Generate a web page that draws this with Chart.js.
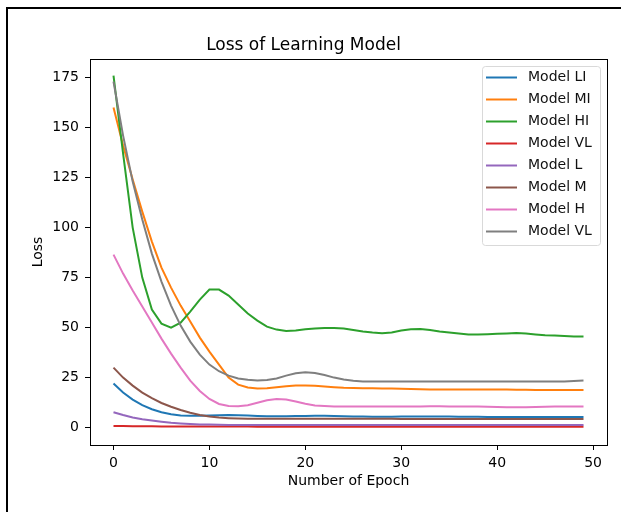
<!DOCTYPE html>
<html>
<head>
<meta charset="utf-8">
<script src="https://cdn.jsdelivr.net/npm/chart.js@4.4.0/dist/chart.umd.min.js"></script>
<style>
  html, body { margin: 0; padding: 0; background: #fff; }
  #wrap { position: relative; width: 621px; height: 512px; overflow: hidden; }
  #myChart { position: absolute; left: 0; top: 0; }
  #frame { position: absolute; left: 6px; top: 7px; width: 700px; height: 600px;
           border-left: 2px solid #000; border-top: 2px solid #000; pointer-events: none; }
</style>
</head>
<body>
<div id="wrap">
  <canvas id="myChart" width="621" height="512"></canvas>
  <div id="frame"></div>
</div>
<script>
// data block
const epochs = Array.from({length: 50}, (_, i) => i);
const xTicks = [0, 10, 20, 30, 40, 50];
const yTicks = [0, 25, 50, 75, 100, 125, 150, 175];

const seriesNames = ['Model LI', 'Model MI', 'Model HI', 'Model VL', 'Model L', 'Model M', 'Model H', 'Model VL'];
const seriesColors = ['#1f77b4', '#ff7f0e', '#2ca02c', '#d62728', '#9467bd', '#8c564b', '#e377c2', '#7f7f7f'];

const modelLI = [22, 17.5, 14, 11.2, 9.2, 7.7, 6.7, 6.1, 5.9, 5.9, 6.0, 6.2, 6.3, 6.2, 6.0, 5.8, 5.7, 5.7, 5.7, 5.8,
  5.8, 5.9, 5.9, 5.8, 5.7, 5.6, 5.5, 5.4, 5.4, 5.4, 5.5, 5.5, 5.6, 5.6, 5.5, 5.5, 5.4, 5.4, 5.4, 5.3,
  5.3, 5.3, 5.3, 5.3, 5.3, 5.3, 5.3, 5.3, 5.3, 5.3];
const modelMI = [160, 141, 124, 108, 93, 80, 70, 61, 53, 45, 38, 31.5, 25, 21.5, 20.1, 19.6, 19.7, 20.2, 20.7, 21,
  21, 20.9, 20.6, 20.2, 19.9, 19.8, 19.7, 19.7, 19.6, 19.5, 19.4, 19.3, 19.2, 19.1, 19.1, 19, 19, 19, 19, 19.1,
  19, 19, 18.9, 18.9, 18.8, 18.8, 18.8, 18.8, 18.8, 18.8];
const modelHI = [176, 137, 100, 75, 59, 52, 50, 52.5, 58, 64, 69, 69, 66, 61.5, 57, 53.5, 50.5, 49, 48.3, 48.5,
  49.2, 49.6, 49.8, 49.8, 49.5, 48.8, 48, 47.5, 47.2, 47.6, 48.5, 49.2, 49.3, 48.8, 48, 47.5, 47, 46.6, 46.5, 46.7,
  46.9, 47.1, 47.3, 47, 46.6, 46.2, 46, 45.8, 45.6, 45.6];
const modelVL = [0.8, 0.75, 0.7, 0.66, 0.62, 0.6, 0.57, 0.55, 0.53, 0.52, 0.5, 0.5, 0.5, 0.49, 0.49, 0.48, 0.48, 0.47, 0.47, 0.46,
  0.46, 0.46, 0.45, 0.45, 0.45, 0.44, 0.44, 0.44, 0.43, 0.43, 0.43, 0.43, 0.42, 0.42, 0.42, 0.42, 0.41, 0.41, 0.41, 0.41,
  0.41, 0.4, 0.4, 0.4, 0.4, 0.4, 0.4, 0.4, 0.4, 0.4];
const modelL = [7.7, 6.3, 5.1, 4.2, 3.5, 2.9, 2.4, 2.1, 1.8, 1.6, 1.5, 1.4, 1.35, 1.3, 1.3, 1.3, 1.3, 1.3, 1.3, 1.3,
  1.3, 1.3, 1.3, 1.3, 1.3, 1.3, 1.3, 1.3, 1.3, 1.3, 1.3, 1.3, 1.3, 1.3, 1.3, 1.3, 1.3, 1.3, 1.3, 1.3,
  1.3, 1.3, 1.3, 1.3, 1.3, 1.3, 1.3, 1.3, 1.3, 1.3];
const modelM = [30, 25, 21, 17.5, 14.7, 12.3, 10.4, 8.8, 7.4, 6.3, 5.5, 5, 4.7, 4.5, 4.4, 4.4, 4.4, 4.4, 4.4, 4.4,
  4.4, 4.4, 4.4, 4.4, 4.4, 4.4, 4.4, 4.4, 4.4, 4.4, 4.3, 4.3, 4.3, 4.3, 4.3, 4.3, 4.3, 4.3, 4.3, 4.3,
  4.3, 4.3, 4.3, 4.3, 4.3, 4.3, 4.3, 4.3, 4.3, 4.3];
const modelH = [86.5, 77, 68.5, 60.5, 52.5, 44.5, 37, 30, 23.5, 18.3, 14.3, 11.8, 10.8, 10.7, 11.2, 12.4, 13.7, 14.3, 14, 13,
  11.9, 11.1, 10.8, 10.6, 10.6, 10.6, 10.6, 10.6, 10.6, 10.6, 10.6, 10.6, 10.6, 10.7, 10.7, 10.6, 10.6, 10.6, 10.5, 10.4,
  10.3, 10.2, 10.2, 10.2, 10.3, 10.4, 10.5, 10.5, 10.5, 10.5];
const modelVL2 = [173, 146, 123, 104, 87, 73, 61, 51, 43, 36.5, 31.5, 28.2, 26, 24.6, 23.9, 23.6, 23.8, 24.6, 26, 27.2,
  27.7, 27.3, 26.3, 25, 24, 23.4, 23.1, 23, 23, 23, 23, 23, 23, 23, 23, 23, 23, 23, 23, 23,
  23, 23, 23, 23, 23, 23, 23, 23.1, 23.3, 23.6];

const seriesValues = [modelLI, modelMI, modelHI, modelVL, modelL, modelM, modelH, modelVL2];

const FONT = 'DejaVu Sans';

// setup block
let data = {
    labels: epochs,
    datasets: seriesValues.map((vals, i) => ({
        label: seriesNames[i],
        data: vals,
        borderColor: seriesColors[i],
        backgroundColor: seriesColors[i],
        borderWidth: 2,
        pointRadius: 0,
        tension: 0,
        fill: false,
        order: seriesValues.length - i   // later series drawn on top, like pyplot
    }))
}

// spines on all four sides + pyplot style legend box
const boxPlugin = {
    id: 'boxPlugin',
    afterDraw(chart) {
        const ctx = chart.ctx;
        const a = chart.chartArea;
        ctx.save();
        ctx.strokeStyle = '#000';
        ctx.lineWidth = 1;
        ctx.strokeRect(Math.round(a.left) + 0.5, Math.round(a.top) + 0.5,
            Math.round(a.right - a.left), Math.round(a.bottom - a.top));

        // legend
        const bx = 482, by = 66, bw = 118, bh = 179, row = 22;
        ctx.beginPath();
        ctx.roundRect(bx + 0.5, by + 0.5, bw, bh, 3);
        ctx.fillStyle = 'rgba(255,255,255,0.8)';
        ctx.fill();
        ctx.strokeStyle = '#d9d9d9';
        ctx.stroke();
        ctx.font = '14px "' + FONT + '"';
        ctx.textBaseline = 'middle';
        ctx.textAlign = 'left';
        chart.data.datasets.forEach((ds, i) => {
            const cy = by + 11.5 + i * row;
            ctx.beginPath();
            ctx.moveTo(bx + 4, cy);
            ctx.lineTo(bx + 35, cy);
            ctx.strokeStyle = ds.borderColor;
            ctx.lineWidth = 2;
            ctx.stroke();
            ctx.fillStyle = '#111';
            ctx.fillText(ds.label, bx + 46, cy);
        });
        ctx.restore();
    }
}

// config block
let config = {
    type: 'line',
    data,
    options: {
        responsive: false,
        animation: false,
        layout: { padding: { left: 0, right: 14, top: 0, bottom: 0 } },
        plugins: {
            legend: { display: false },
            tooltip: { enabled: false },
            title: {
                display: true,
                text: 'Loss of Learning Model',
                color: '#000',
                font: { family: FONT, size: 17, weight: 'normal' },
                padding: { top: 35, bottom: 3.6 }
            }
        },
        scales: {
            x: {
                type: 'linear',
                min: -2.45,
                max: 51.45,
                afterBuildTicks: (scale) => { scale.ticks = xTicks.map(v => ({ value: v })); },
                afterFit: (scale) => { scale.height = 67; },
                grid: { display: true, drawOnChartArea: false, drawTicks: true, tickLength: 5, color: '#000' },
                border: { display: true, color: '#000' },
                ticks: { color: '#000', padding: 5, maxRotation: 0, font: { family: FONT, size: 14 } },
                title: {
                    display: true,
                    text: 'Number of Epoch',
                    color: '#000',
                    font: { family: FONT, size: 14 },
                    padding: { top: 0, bottom: 22.6 }
                }
            },
            y: {
                min: -8.7,
                max: 184.3,
                afterBuildTicks: (scale) => { scale.ticks = yTicks.map(v => ({ value: v })); },
                afterFit: (scale) => { scale.width = 90; },
                grid: { display: true, drawOnChartArea: false, drawTicks: true, tickLength: 5, color: '#000' },
                border: { display: true, color: '#000' },
                ticks: { color: '#000', padding: 6, font: { family: FONT, size: 14 } },
                title: {
                    display: true,
                    text: 'Loss',
                    color: '#000',
                    font: { family: FONT, size: 14 },
                    padding: { top: 29.6, bottom: 0 }
                }
            }
        }
    },
    plugins: [boxPlugin]
}

// init block
let myChart = new Chart(document.getElementById('myChart'), config);
</script>
</body>
</html>
